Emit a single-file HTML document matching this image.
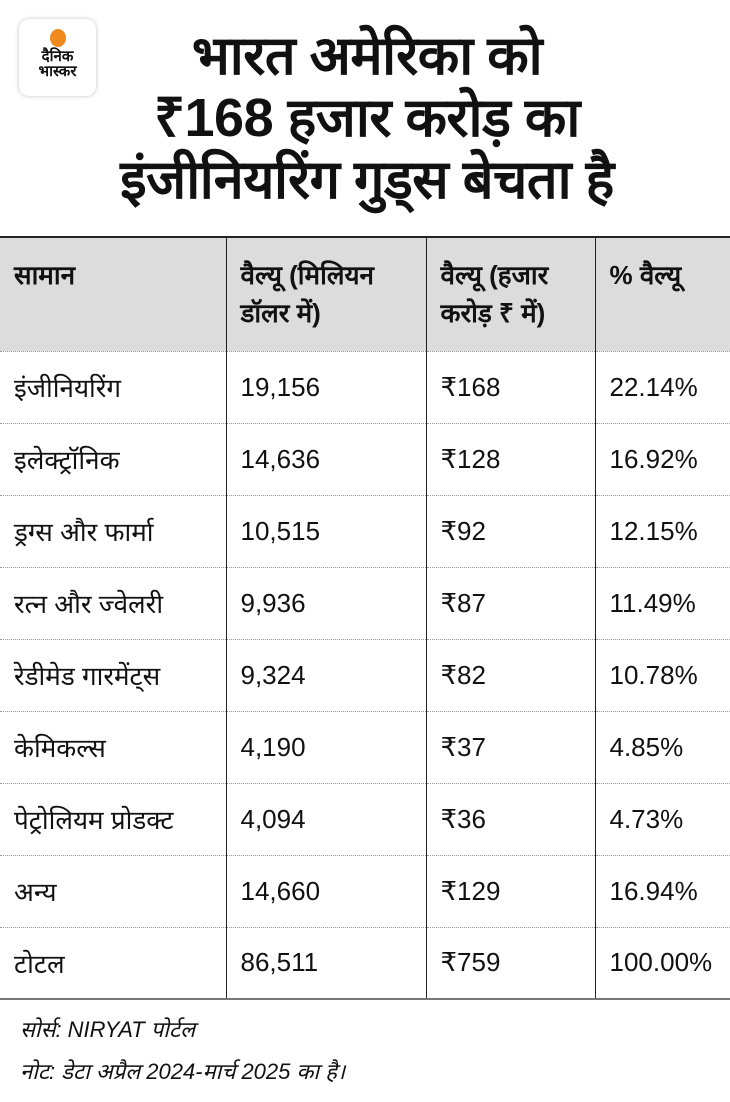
<!DOCTYPE html>
<html><head><meta charset="utf-8"><style>
body{margin:0;width:730px;height:1102px;background:#fff;font-family:"Liberation Sans",sans-serif;color:#111;position:relative;overflow:hidden}
.logo{position:absolute;left:19px;top:19px;width:77px;height:77px;border-radius:10px;background:#fff;box-shadow:0 0 4px rgba(0,0,0,.25);text-align:center}
.logo .dot{width:16px;height:18px;border-radius:50%;background:#f08a1f;margin:10px auto 2px}
.logo div.t{font-size:15px;font-weight:bold;line-height:15px}
h1{position:absolute;left:0;right:0;top:25px;margin:0;text-align:center;font-size:54px;line-height:62px;font-weight:900;letter-spacing:-0.5px;padding-left:4px}
table{position:absolute;top:236px;left:0;width:730px;border-collapse:collapse;font-size:26px}
th{background:#dcdcdd;text-align:left;vertical-align:top;font-weight:bold;height:114px;padding:18px 12px 0 14px;line-height:38px;border-top:2px solid #222;box-sizing:border-box}
td{height:72px;padding:0 12px 0 14px;border-top:1px dotted #999;box-sizing:border-box}
th+th,td+td{border-left:1px solid #222}
tr:last-child td{border-bottom:2px solid #777}
.c1{width:226px}.c2{width:200px}.c3{width:169px}
.foot{position:absolute;left:20px;font-style:italic;font-size:22px}
</style></head><body>
<div class="logo"><div class="dot"></div><div class="t">दैनिक</div><div class="t">भास्कर</div></div>
<h1>भारत अमेरिका को<br>₹168 हजार करोड़ का<br>इंजीनियरिंग गुड्स बेचता है</h1>
<table>
<tr><th class="c1">सामान</th><th class="c2">वैल्यू (मिलियन डॉलर में)</th><th class="c3">वैल्यू (हजार करोड़ ₹ में)</th><th>% वैल्यू</th></tr>
<tr><td>इंजीनियरिंग</td><td>19,156</td><td>₹168</td><td>22.14%</td></tr>
<tr><td>इलेक्ट्रॉनिक</td><td>14,636</td><td>₹128</td><td>16.92%</td></tr>
<tr><td>ड्रग्स और फार्मा</td><td>10,515</td><td>₹92</td><td>12.15%</td></tr>
<tr><td>रत्न और ज्वेलरी</td><td>9,936</td><td>₹87</td><td>11.49%</td></tr>
<tr><td>रेडीमेड गारमेंट्स</td><td>9,324</td><td>₹82</td><td>10.78%</td></tr>
<tr><td>केमिकल्स</td><td>4,190</td><td>₹37</td><td>4.85%</td></tr>
<tr><td style="white-space:nowrap;padding-right:0">पेट्रोलियम प्रोडक्ट</td><td>4,094</td><td>₹36</td><td>4.73%</td></tr>
<tr><td>अन्य</td><td>14,660</td><td>₹129</td><td>16.94%</td></tr>
<tr><td>टोटल</td><td>86,511</td><td>₹759</td><td>100.00%</td></tr>
</table>
<div class="foot" style="top:1014px">सोर्स: NIRYAT पोर्टल</div>
<div class="foot" style="top:1056px">नोट: डेटा अप्रैल 2024-मार्च 2025 का है।</div>
</body></html>
